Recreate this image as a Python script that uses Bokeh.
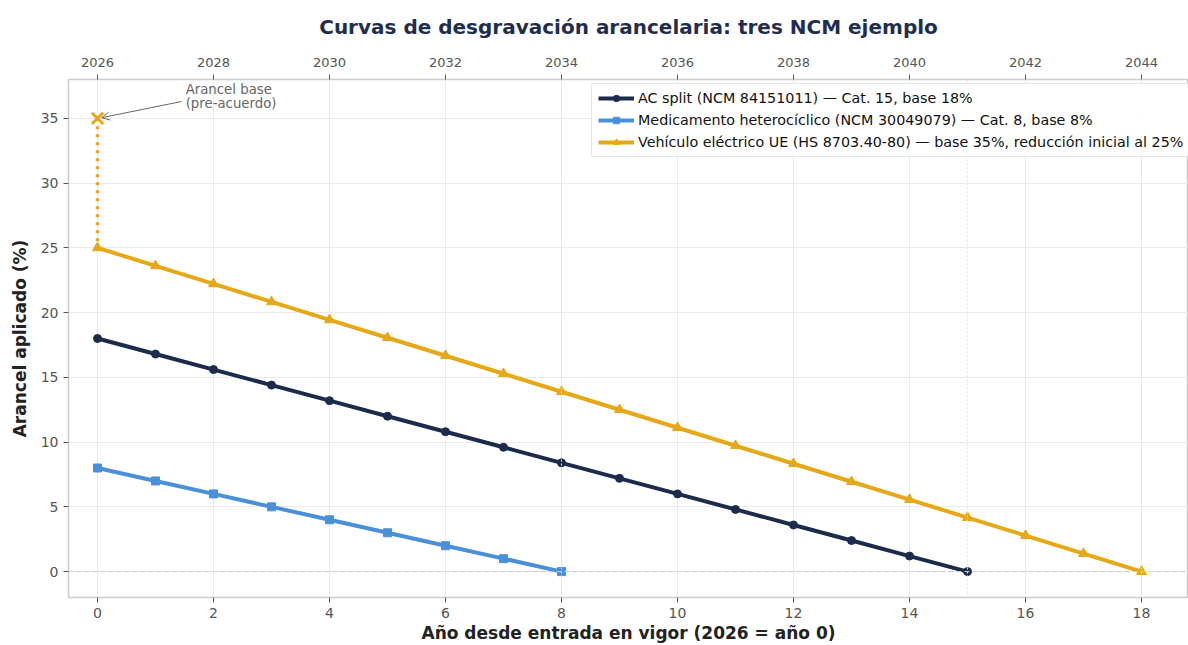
from bokeh.plotting import figure
from bokeh.models import (LinearAxis, Span, Arrow, OpenHead, Label, Legend, LegendItem,
                          Title, FixedTicker)
from bokeh.embed import file_html
from bokeh.resources import INLINE

# ---- data ----
ac_years = list(range(0, 16))
ac_values = [18, 16.8, 15.6, 14.4, 13.2, 12.0, 10.8, 9.6, 8.4, 7.2, 6.0, 4.8, 3.6, 2.4, 1.2, 0]
med_years = list(range(0, 9))
med_values = [8, 7, 6, 5, 4, 3, 2, 1, 0]
veh_years = list(range(0, 19))
veh_values = [25, 23.61, 22.22, 20.83, 19.44, 18.06, 16.67, 15.28, 13.89, 12.5,
              11.11, 9.72, 8.33, 6.94, 5.56, 4.17, 2.78, 1.39, 0]
veh_base = 35
end_years = [8, 15, 18]
bottom_ticks = [0, 2, 4, 6, 8, 10, 12, 14, 16, 18]
top_labels = ["2026", "2028", "2030", "2032", "2034", "2036", "2038", "2040", "2042", "2044"]
y_ticks = [0, 5, 10, 15, 20, 25, 30, 35]
labels = ["AC split (NCM 84151011) — Cat. 15, base 18%",
          "Medicamento heterocíclico (NCM 30049079) — Cat. 8, base 8%",
          "Vehículo eléctrico UE (HS 8703.40-80) — base 35%, reducción inicial al 25%"]

NAVY = "#1c2b4b"
BLUE = "#4a90d9"
GOLD = "#e6a817"
FONT = "DejaVu Sans"
TICK_COL = "#555555"

p = figure(width=1188, height=645, x_range=(-0.5, 18.81), y_range=(-2, 38),
           output_backend="svg", toolbar_location=None,
           min_border_left=68, min_border_right=0, min_border_bottom=48, min_border_top=0)

p.title = Title(text="Curvas de desgravación arancelaria: tres NCM ejemplo", align="center",
                text_font=FONT, text_font_size="20px", text_font_style="bold",
                text_color="#1f2d4e", standoff=28, vertical_align="top")

p.outline_line_color = "#cccccc"
p.outline_line_width = 1.5
p.background_fill_color = "white"
p.border_fill_color = "white"

for g in (p.xgrid[0], p.ygrid[0]):
    g.grid_line_color = "#ebebeb"
    g.grid_line_width = 1
p.xgrid[0].ticker = FixedTicker(ticks=bottom_ticks)
p.ygrid[0].ticker = FixedTicker(ticks=y_ticks)

def style_axis(ax):
    ax.axis_line_color = None
    ax.major_tick_line_color = TICK_COL
    ax.major_tick_out = 5
    ax.major_tick_in = 0
    ax.minor_tick_line_color = None
    ax.major_label_text_color = TICK_COL
    ax.major_label_text_font = FONT
    ax.major_label_text_font_size = "14px"
    ax.axis_label_text_font = FONT
    ax.axis_label_text_font_style = "bold"
    ax.axis_label_text_font_size = "17px"
    ax.axis_label_text_color = "#222222"

xa = p.xaxis[0]
xa.ticker = FixedTicker(ticks=bottom_ticks)
xa.axis_label = "Año desde entrada en vigor (2026 = año 0)"
style_axis(xa)
xa.axis_label_standoff = 2
xa.major_label_standoff = 5

ya = p.yaxis[0]
ya.ticker = FixedTicker(ticks=y_ticks)
ya.axis_label = "Arancel aplicado (%)"
style_axis(ya)
ya.axis_label_standoff = 8

top = LinearAxis(ticker=FixedTicker(ticks=bottom_ticks),
                 major_label_overrides={t: l for t, l in zip(bottom_ticks, top_labels)})
style_axis(top)
top.major_label_text_font_size = "13px"
top.major_label_standoff = 8
p.add_layout(top, "above")

# zero line and end spans
p.add_layout(Span(location=0, dimension="width", line_color="#cccccc",
                  line_dash="5 3", line_width=1))
for e in end_years:
    p.add_layout(Span(location=e, dimension="height", line_color="#e0e0e0",
                      line_dash="2 2", line_width=1))

# series
r1l = p.line(ac_years, ac_values, line_color=NAVY, line_width=4)
r1m = p.scatter(ac_years, ac_values, marker="circle", size=8, fill_color=NAVY, line_color=NAVY)
r2l = p.line(med_years, med_values, line_color=BLUE, line_width=4)
r2m = p.scatter(med_years, med_values, marker="square", size=8, fill_color=BLUE, line_color=BLUE)
r3l = p.line(veh_years, veh_values, line_color=GOLD, line_width=4)
r3m = p.scatter(veh_years, veh_values, marker="triangle", size=10, fill_color=GOLD, line_color=GOLD)

# base tariff marker and dotted drop
p.line([veh_years[0], veh_years[0]], [veh_base, veh_values[0]], line_color=GOLD,
       line_width=3.5, line_dash="3 5")
p.scatter([veh_years[0]], [veh_base], marker="x", size=16, line_color=GOLD, line_width=3)

# annotation
p.add_layout(Arrow(end=OpenHead(size=8, line_color="#666666", line_width=1),
                   x_start=1.45, y_start=36.3, x_end=0.07, y_end=35.05,
                   line_color="#666666", line_width=1))
p.add_layout(Label(x=1.52, y=38, text="Arancel base\n(pre-acuerdo)", text_font=FONT,
                   text_font_size="13.3px", text_color="#666666", text_baseline="top",
                   text_line_height=0.95, y_offset=-2))

legend = Legend(items=[LegendItem(label=labels[0], renderers=[r1l, r1m]),
                       LegendItem(label=labels[1], renderers=[r2l, r2m]),
                       LegendItem(label=labels[2], renderers=[r3l, r3m])],
                location=(523, 440), label_text_font=FONT, label_text_font_size="14.3px",
                label_text_color="#111111", border_line_color="#cccccc", border_line_width=1.5,
                glyph_width=36, glyph_height=16, label_height=16, spacing=6,
                padding=6, margin=0, background_fill_alpha=0.9, label_standoff=4)
p.add_layout(legend)

open("out.html", "w").write(file_html(p, INLINE))
